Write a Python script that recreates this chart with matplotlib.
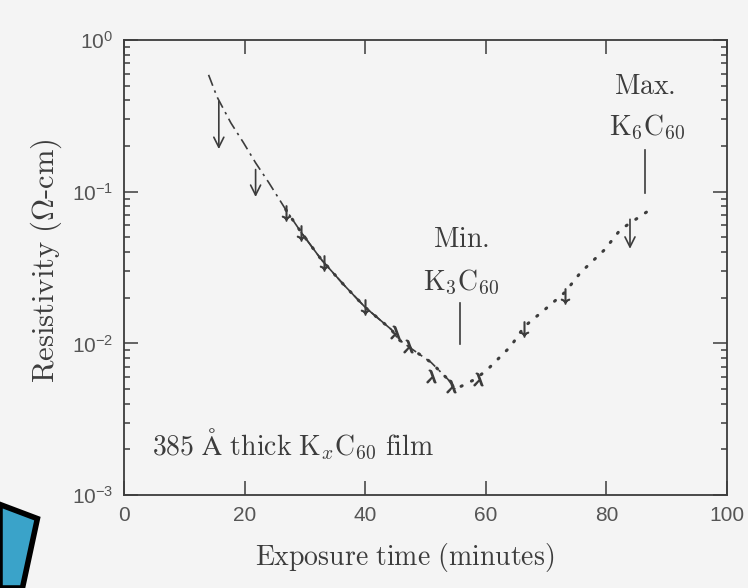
import matplotlib
matplotlib.use("Agg")
import matplotlib.pyplot as plt
from matplotlib.patches import Polygon
from matplotlib.ticker import LogLocator, NullFormatter

plt.rcParams.update({
    "mathtext.fontset": "cm",
    "font.family": "Liberation Sans",
})

INK = "#3c3c3c"
PAPER = "#f4f4f4"

# resistivity trace (minutes, ohm-cm)
time_min = [14.0, 15.4, 17.7, 19.8, 21.8, 24.0, 26.8, 29.4, 32.7, 36.4, 40.0,
            44.3, 45.5, 48.3, 50.9, 53.7, 54.9, 58.2, 60.3, 64.1, 66.4, 69.8,
            73.1, 75.7, 79.7, 82.3, 86.8]
rho = [0.589, 0.422, 0.284, 0.210, 0.155, 0.1146, 0.0762, 0.0537, 0.0357,
       0.0244, 0.01726, 0.01236, 0.01062, 0.00885, 0.0075, 0.0058, 0.00498,
       0.0058, 0.00675, 0.00955, 0.01294, 0.01675, 0.0217, 0.0293, 0.0415,
       0.0562, 0.0741]

# long downward arrows (upper limits)
arrow_t = [15.7, 21.8, 83.9]
arrow_top = [0.41, 0.146, 0.0686]
arrow_bot = [0.183, 0.0885, 0.0403]

# small marks along the trace
down_t = [26.8, 29.4, 33.2, 40.0, 66.4, 73.2]
down_rho = [0.0728, 0.0537, 0.0341, 0.0175, 0.01236, 0.0204]
up_t = [45.0, 47.1, 50.9, 54.2, 58.7]
up_rho = [0.0118, 0.00955, 0.00607, 0.00521, 0.0058]

fig = plt.figure(figsize=(7.48, 5.88), dpi=100, facecolor=PAPER)
ax = fig.add_axes([0.166, 0.158, 0.806, 0.774])
ax.set_facecolor(PAPER)

# dashed branch, solid middle section, dotted branch
ax.plot(time_min[:17], rho[:17], color=INK, lw=1.2, ls=(0, (7, 3, 1.5, 3)))
ax.plot(time_min[7:12], rho[7:12], color=INK, lw=1.2)
ax.plot(time_min[6:], rho[6:], color=INK, lw=2.2, ls=(0, (0.4, 3.4)),
        dash_capstyle="round")

for t, a, b in zip(arrow_t, arrow_top, arrow_bot):
    ax.annotate("", xy=(t, b), xytext=(t, a),
                arrowprops=dict(arrowstyle="->", color=INK, lw=1.2,
                                mutation_scale=18))
ax.plot(down_t, down_rho, ls="none", marker=r"$\downarrow$", ms=11, color=INK)
ax.plot(up_t, up_rho, ls="none", marker=r"$\lambda$", ms=9, color=INK)

# Min / Max markers
ax.plot([55.7, 55.7], [0.0186, 0.00984], color=INK, lw=1.2)
ax.plot([86.4, 86.4], [0.189, 0.0985], color=INK, lw=1.2)
tkw = dict(ha="center", va="center", color=INK, fontsize=20)
ax.text(86.3, 0.491, r"$\mathrm{Max.}$", **tkw)
ax.text(86.8, 0.264, r"$\mathrm{K_6C_{60}}$", **tkw)
ax.text(55.9, 0.0483, r"$\mathrm{Min.}$", **tkw)
ax.text(55.9, 0.0252, r"$\mathrm{K_3C_{60}}$", **tkw)
ax.text(4.6, 0.00217, r"$\mathrm{385\ \AA\ thick\ K}_x\mathrm{C_{60}\ film}$",
        ha="left", va="center", color=INK, fontsize=20)

ax.set_xlim(0, 100)
ax.set_ylim(1e-3, 1)
ax.set_yscale("log")
ax.set_xticks([0, 20, 40, 60, 80, 100])
ax.yaxis.set_major_locator(LogLocator(base=10, numticks=5))
ax.yaxis.set_minor_locator(LogLocator(base=10, subs=range(2, 10), numticks=20))
ax.yaxis.set_minor_formatter(NullFormatter())
ax.tick_params(which="both", direction="in", top=True, right=True,
               color=INK, width=1.1, labelcolor="#555555", labelsize=15)
ax.tick_params(which="major", length=10, pad=8)
ax.tick_params(which="minor", length=4)
for s in ax.spines.values():
    s.set_color(INK)
    s.set_linewidth(1.3)

ax.set_xlabel(r"$\mathrm{Exposure\ time\ (minutes)}$", fontsize=20, color=INK)
ax.xaxis.set_label_coords(0.465, -0.10)
ax.set_ylabel(r"$\mathrm{Resistivity\ (}\Omega\text{-}\mathrm{cm)}$",
              fontsize=22, color=INK)
ax.yaxis.set_label_coords(-0.10, 0.515)

# slide decoration in the lower left corner
fig.patches.append(Polygon([(0, 0.142), (0.05, 0.118), (0.03, 0), (0, 0)],
                           closed=True, transform=fig.transFigure,
                           facecolor="#3aa3c9", edgecolor="black", lw=4))

fig.savefig("out.png", dpi=100, facecolor=PAPER)
